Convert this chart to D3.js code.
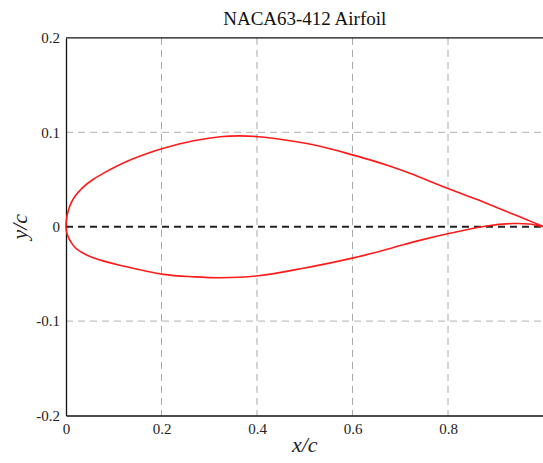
<!DOCTYPE html>
<html>
<head>
<meta charset="utf-8">
<script src="https://cdn.jsdelivr.net/npm/d3@7"></script>
<style>
  html, body { margin: 0; padding: 0; background: #fff; }
  svg { display: block; }
  svg text { font-family: "Liberation Serif", "DejaVu Serif", serif !important; }
</style>
</head>
<body>
<svg id="chart" width="543" height="463"></svg>
<script>
const title = "NACA63-412 Airfoil";
const xTicks = [0, 0.2, 0.4, 0.6, 0.8];
const yTicks = [-0.2, -0.1, 0, 0.1, 0.2];
const xTickLabels = ["0", "0.2", "0.4", "0.6", "0.8"];
const yTickLabels = ["-0.2", "-0.1", "0", "0.1", "0.2"];

const upperX = [1.0, 0.96, 0.916, 0.86, 0.804, 0.72, 0.679, 0.637, 0.602, 0.532, 0.462, 0.403, 0.364, 0.323, 0.267, 0.204, 0.173, 0.127, 0.078, 0.055, 0.036, 0.02, 0.01, 0.004, 0.001, 0];
const upperY = [0, 0.0085, 0.0175, 0.029, 0.0396, 0.0566, 0.064, 0.0708, 0.0758, 0.0852, 0.0915, 0.0953, 0.0962, 0.0953, 0.091, 0.083, 0.078, 0.069, 0.0565, 0.0495, 0.042, 0.033, 0.0245, 0.0155, 0.0078, 0];
const lowerX = [0.001, 0.004, 0.01, 0.022, 0.057, 0.127, 0.204, 0.267, 0.323, 0.403, 0.497, 0.602, 0.679, 0.741, 0.804, 0.881, 0.937, 0.97, 1.0];
const lowerY = [-0.005, -0.010, -0.016, -0.0235, -0.033, -0.0425, -0.0505, -0.053, -0.054, -0.052, -0.044, -0.033, -0.023, -0.0145, -0.007, 0.0007, 0.0034, 0.0028, 0];

const svg = d3.select("#chart");
const m = { left: 66, right: 543.5, top: 37.9, bottom: 415.5 };
const x = d3.scaleLinear().domain([0, 1]).range([m.left, m.right]);
const y = d3.scaleLinear().domain([-0.2, 0.2]).range([m.bottom, m.top]);
const serif = "Liberation Serif";

// grid
svg.append("g").selectAll("line").data(xTicks.filter(d => d > 0)).join("line")
  .attr("x1", d => x(d)).attr("x2", d => x(d)).attr("y1", y(0.2)).attr("y2", y(-0.2))
  .attr("stroke", "#a8a8a8").attr("stroke-width", 1).attr("stroke-dasharray", "7,5");
svg.append("g").selectAll("line").data(yTicks.filter(d => d !== 0 && Math.abs(d) < 0.2)).join("line")
  .attr("x1", x(0)).attr("x2", x(1)).attr("y1", d => y(d)).attr("y2", d => y(d))
  .attr("stroke", "#b0b0b0").attr("stroke-width", 1).attr("stroke-dasharray", "7,5");

// zero line
svg.append("line")
  .attr("x1", x(0)).attr("x2", x(1)).attr("y1", y(0)).attr("y2", y(0))
  .attr("stroke", "#222").attr("stroke-width", 2).attr("stroke-dasharray", "7,5");

// axes
const xAxis = d3.axisBottom(x).tickValues(xTicks).tickSize(0).tickPadding(8)
  .tickFormat((d, i) => xTickLabels[i]);
const gx = svg.append("g").attr("transform", `translate(0,${y(-0.2)})`).call(xAxis)
  .attr("font-family", serif).attr("font-size", 15);
gx.select(".domain").attr("stroke", "#111").attr("stroke-width", 1.3);
gx.selectAll("text").attr("fill", "#222");

const yAxis = d3.axisLeft(y).tickValues(yTicks).tickSize(0).tickPadding(6)
  .tickFormat((d, i) => yTickLabels[i]);
const gy = svg.append("g").attr("transform", `translate(${x(0)},0)`).call(yAxis)
  .attr("font-family", serif).attr("font-size", 15);
gy.select(".domain").attr("stroke", "#111").attr("stroke-width", 1.3);
gy.selectAll("text").attr("fill", "#222");

// top border
svg.append("line").attr("x1", x(0)).attr("x2", x(1)).attr("y1", y(0.2)).attr("y2", y(0.2))
  .attr("stroke", "#111").attr("stroke-width", 1.3);

// airfoil
const pts = upperX.map((d, i) => [d, upperY[i]]).concat(lowerX.map((d, i) => [d, lowerY[i]]));
const line = d3.line().x(d => x(d[0])).y(d => y(d[1])).curve(d3.curveCatmullRom.alpha(0.5));
svg.append("path").attr("d", line(pts)).attr("fill", "none")
  .attr("stroke", "#ff1a1a").attr("stroke-width", 1.6);

// title
svg.append("text").attr("x", (m.left + m.right) / 2).attr("y", 25)
  .attr("text-anchor", "middle").attr("font-size", 19).attr("fill", "#111").text(title);

// axis labels
svg.append("text").attr("x", (m.left + m.right) / 2).attr("y", 452)
  .attr("text-anchor", "middle").attr("font-size", 22).attr("font-style", "italic").attr("fill", "#222")
  .text("x/c");
svg.append("text").attr("transform", `translate(27,${y(0)}) rotate(-90)`)
  .attr("text-anchor", "middle").attr("font-size", 22).attr("font-style", "italic").attr("fill", "#222")
  .text("y/c");
</script>
</body>
</html>
